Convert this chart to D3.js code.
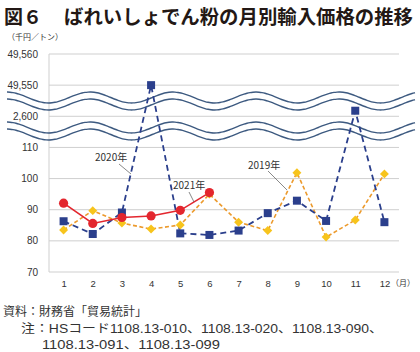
<!DOCTYPE html>
<html>
<head>
<meta charset="utf-8">
<script src="https://cdn.jsdelivr.net/npm/d3@7"></script>
<style>
body { margin: 0; background: #fff; }
svg text { font-family: "Noto Sans CJK JP", "Noto Sans", sans-serif; }
.num { font-family: "Liberation Sans", Arial, sans-serif !important; }
.foot text { font-family: "Liberation Sans", "Noto Sans CJK JP", sans-serif; }
</style>
</head>
<body>
<div id="chart"></div>
<script>
// data
var months = [1, 2, 3, 4, 5, 6, 7, 8, 9, 10, 11, 12];
var y2019 = [83.5, 89.7, 85.7, 83.8, 85.1, 95.0, 86.0, 83.3, 101.9, 81.2, 86.7, 101.5];
var y2020 = [86.3, 82.2, 89.1, 49550, 82.4, 81.9, 83.3, 88.9, 92.9, 86.4, 11000, 86.0];
var y2021 = [92.1, 85.6, 87.5, 88.0, 89.8, 95.5];
var yTicks = [70, 80, 90, 100, 110, 2600, 49550, 49560];
var yTickLabels = ["70", "80", "90", "100", "110", "2,600", "49,550", "49,560"];

var W = 420, H = 352;
var svg = d3.select("#chart").append("svg").attr("width", W).attr("height", H);

var plotL = 49, plotR = 399, plotT = 54, plotB = 272;
var step = (plotB - plotT) / 7;

var x = d3.scalePoint().domain(months).range([plotL, plotR]).padding(0.5);
// broken axis: linear 70-110, then one tick step per break
var y = d3.scaleLinear()
    .domain([70, 110, 2600, 49550, 49560])
    .range([plotB, plotB - 4 * step, plotB - 5 * step, plotB - 6 * step, plotB - 7 * step]);

// title
svg.append("text").attr("x", 4).attr("y", 24)
    .style("font-size", "19px").style("font-weight", "700").attr("fill", "#231815")
    .text("図６");
svg.append("text").attr("x", 64).attr("y", 24)
    .style("font-size", "19px").style("font-weight", "700").attr("fill", "#231815")
    .attr("textLength", 349).attr("lengthAdjust", "spacingAndGlyphs")
    .text("ばれいしょでん粉の月別輸入価格の推移");

svg.append("text").attr("x", 7).attr("y", 40)
    .style("font-size", "8px").attr("fill", "#333")
    .text("（千円／トン）");

// grid
svg.append("g").selectAll("line").data(yTicks).join("line")
    .attr("x1", plotL).attr("x2", plotR)
    .attr("y1", function(d) { return y(d); }).attr("y2", function(d) { return y(d); })
    .attr("stroke", "#cfcfcf").attr("stroke-width", 1);
svg.append("line").attr("x1", plotL).attr("x2", plotL).attr("y1", plotT).attr("y2", plotB)
    .attr("stroke", "#cfcfcf");

// y labels
svg.append("g").selectAll("text").data(yTicks).join("text")
    .attr("class", "num")
    .attr("x", 38).attr("y", function(d) { return y(d) + 3.5; })
    .attr("text-anchor", "end").style("font-size", "10px").attr("fill", "#333")
    .text(function(d, i) { return yTickLabels[i]; });

// x labels
var xAxis = svg.append("g").attr("transform", "translate(0," + (plotB + 6) + ")")
    .call(d3.axisBottom(x).tickSize(0).tickPadding(0));
xAxis.select(".domain").remove();
xAxis.selectAll("text").attr("class", "num").style("font-size", "9.5px").attr("fill", "#333")
    .attr("dy", "0.9em");
svg.append("text").attr("x", 391).attr("y", 286).style("font-size", "8px").attr("fill", "#333")
    .text("（月）");

// break waves
var wave = d3.line().curve(d3.curveBasis);
function waveLine(c) {
    return wave(d3.range(7, 417, 3).map(function(px) {
        return [px, c - 5.5 * Math.cos(2 * Math.PI * (px - 90) / 83)];
    }));
}
[97.5, 104.5, 127.5, 134.5].forEach(function(c) {
    svg.append("path").attr("d", waveLine(c)).attr("fill", "none")
        .attr("stroke", "#3d5a80").attr("stroke-width", 1.4);
});

var line = d3.line()
    .x(function(d, i) { return x(months[i]); })
    .y(function(d) { return y(d); });

// 2019
svg.append("path").datum(y2019).attr("d", line).attr("fill", "none")
    .attr("stroke", "#ec9a2c").attr("stroke-width", 1.6).attr("stroke-dasharray", "4,2.5");
// 2020
svg.append("path").datum(y2020).attr("d", line).attr("fill", "none")
    .attr("stroke", "#2b3f8c").attr("stroke-width", 1.8).attr("stroke-dasharray", "6,4");
// 2021
svg.append("path").datum(y2021).attr("d", line).attr("fill", "none")
    .attr("stroke", "#e3262e").attr("stroke-width", 1.6);

svg.append("g").selectAll("path").data(y2019).join("path")
    .attr("d", d3.symbol(d3.symbolSquare, 40))
    .attr("transform", function(d, i) { return "translate(" + x(months[i]) + "," + y(d) + ") rotate(45)"; })
    .attr("fill", "#f7c41c");
svg.append("g").selectAll("rect").data(y2020).join("rect")
    .attr("x", function(d, i) { return x(months[i]) - 4; })
    .attr("y", function(d) { return y(d) - 4; })
    .attr("width", 8).attr("height", 8).attr("fill", "#2b3f8c");
svg.append("g").selectAll("circle").data(y2021).join("circle")
    .attr("cx", function(d, i) { return x(months[i]); })
    .attr("cy", function(d) { return y(d); })
    .attr("r", 4.6).attr("fill", "#e3262e");

// annotations
function note(tx, ty, x1, y1, x2, y2, label) {
    svg.append("line").attr("x1", x1).attr("y1", y1).attr("x2", x2).attr("y2", y2)
        .attr("stroke", "#555").attr("stroke-width", 0.7);
    svg.append("text").attr("x", tx).attr("y", ty).style("font-size", "10px").attr("fill", "#333")
        .text(label);
}
note(95, 161, 119, 164, 131, 174, "2020年");
note(173, 189, 189, 192, 194, 202, "2021年");
note(248, 169, 268, 171, 287, 190, "2019年");

// footer
var foot = svg.append("g").attr("class", "foot").style("font-size", "12px").attr("fill", "#333");
foot.append("text").attr("x", 3).attr("y", 316).text("資料：財務省「貿易統計」");
foot.append("text").attr("x", 21).attr("y", 333)
    .attr("textLength", 362).attr("lengthAdjust", "spacingAndGlyphs")
    .text("注：HSコード1108.13-010、1108.13-020、1108.13-090、");
foot.append("text").attr("x", 42).attr("y", 349)
    .attr("textLength", 178).attr("lengthAdjust", "spacingAndGlyphs")
    .text("1108.13-091、1108.13-099");
</script>
</body>
</html>
